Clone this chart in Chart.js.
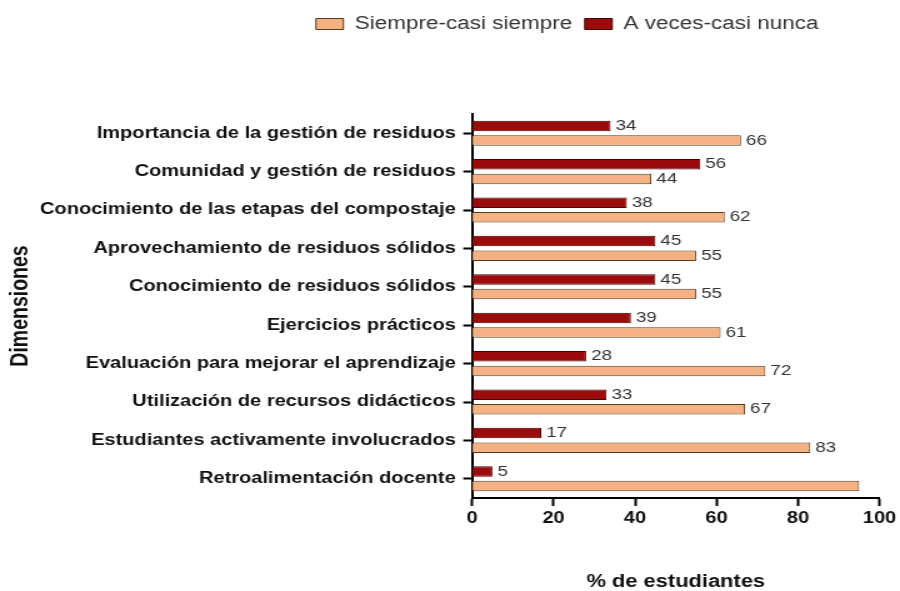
<!DOCTYPE html>
<html><head><meta charset="utf-8">
<script src="https://cdn.jsdelivr.net/npm/chart.js@4.4.0/dist/chart.umd.min.js"></script>
<style>html,body{margin:0;padding:0;background:#fff;overflow:hidden}</style>
</head><body>
<canvas id="c" width="720" height="591" style="display:block;width:900px;height:591px"></canvas>
<script>
const categories = [
  'Importancia de la gestión de residuos',
  'Comunidad y gestión de residuos',
  'Conocimiento de las etapas del compostaje',
  'Aprovechamiento de residuos sólidos',
  'Conocimiento de residuos sólidos',
  'Ejercicios prácticos',
  'Evaluación para mejorar el aprendizaje',
  'Utilización de recursos didácticos',
  'Estudiantes activamente involucrados',
  'Retroalimentación docente'
];
const siempreCasiSiempre = [66, 44, 62, 55, 55, 61, 72, 67, 83, 95];
const aVecesCasiNunca = [34, 56, 38, 45, 45, 39, 28, 33, 17, 5];
const seriesNames = ['Siempre-casi siempre', 'A veces-casi nunca'];
const xTickValues = [0, 20, 40, 60, 80, 100];
const xTitle = '% de estudiantes';
const yTitle = 'Dimensiones';

const FONT = '"Liberation Sans", Arial, sans-serif';

const legendTweak = {
  id: 'legendTweak',
  afterInit(chart) {
    const lg = chart.legend;
    const fit = lg.fit;
    lg.fit = function () { fit.call(this); this.height = 110; };
    const draw = lg.draw;
    lg.draw = function () {
      const ctx = this.ctx;
      ctx.save();
      ctx.translate(101, 1);
      draw.call(this);
      ctx.restore();
    };
  }
};

const valueLabels = {
  id: 'valueLabels',
  afterDatasetsDraw(chart) {
    const ctx = chart.ctx;
    const area = chart.chartArea;
    ctx.save();
    ctx.font = '15px ' + FONT;
    ctx.fillStyle = '#333';
    ctx.textBaseline = 'middle';
    ctx.textAlign = 'left';
    chart.data.datasets.forEach((ds, i) => {
      chart.getDatasetMeta(i).data.forEach((bar, j) => {
        const t = String(ds.data[j]);
        const x = bar.x + 4;
        const w = ctx.measureText(t).width;
        if (x + w > area.right) return;
        ctx.fillText(t, x, bar.y);
      });
    });
    ctx.restore();
  }
};

new Chart(document.getElementById('c'), {
  type: 'bar',
  data: {
    labels: categories,
    datasets: [
      {
        label: seriesNames[1],
        data: aVecesCasiNunca,
        backgroundColor: '#9c0b0b',
        borderColor: '#3d0505',
        borderWidth: 1,
        barPercentage: 0.72,
        categoryPercentage: 0.76
      },
      {
        label: seriesNames[0],
        data: siempreCasiSiempre,
        backgroundColor: '#f4b183',
        borderColor: '#5a3b1e',
        borderWidth: 1,
        barPercentage: 0.72,
        categoryPercentage: 0.76
      }
    ]
  },
  options: {
    indexAxis: 'y',
    responsive: false,
    devicePixelRatio: 1,
    animation: false,
    layout: { padding: { top: 4, right: 14.4, bottom: 0, left: 0 } },
    plugins: {
      legend: {
        position: 'top',
        reverse: true,
        labels: {
          boxWidth: 22,
          boxHeight: 11,
          padding: 10,
          color: '#333',
          font: { family: FONT, size: 18 }
        }
      },
      tooltip: { enabled: false }
    },
    scales: {
      x: {
        min: 0,
        max: 100,
        afterBuildTicks(scale) { scale.ticks = xTickValues.map(v => ({ value: v })); },
        afterFit(scale) { scale.height = 93; },
        grid: { drawOnChartArea: false, drawTicks: true, tickLength: 8, tickWidth: 2, tickColor: '#000' },
        border: { display: true, color: '#000', width: 2 },
        ticks: { color: '#111', padding: 3, font: { family: FONT, size: 16, weight: 'bold' } },
        title: {
          display: true,
          text: xTitle,
          color: '#111',
          padding: { top: 0, bottom: 0 },
          font: { family: FONT, size: 17.5, weight: 'bold', lineHeight: 1 }
        }
      },
      y: {
        afterFit(scale) { scale.width = 377.6; },
        grid: { offset: false, drawOnChartArea: false, drawTicks: true, tickLength: 7, tickWidth: 2, tickColor: '#000' },
        border: { display: true, color: '#000', width: 2 },
        ticks: { color: '#111', padding: 6, autoSkip: false, font: { family: FONT, size: 16, weight: 'bold' } },
        title: {
          display: true,
          text: yTitle,
          color: '#111',
          padding: { top: 7, bottom: 0 },
          font: { family: FONT, size: 19.5, weight: 'bold', lineHeight: 1 }
        }
      }
    }
  },
  plugins: [legendTweak, valueLabels]
});
</script>
</body></html>
